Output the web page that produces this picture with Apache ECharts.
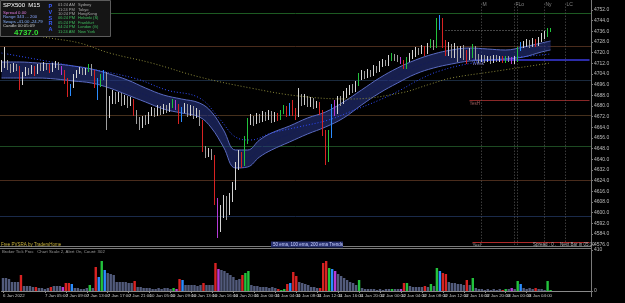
<!DOCTYPE html>
<html><head><meta charset="utf-8">
<script src="https://cdn.jsdelivr.net/npm/echarts@6/dist/echarts.min.js"></script>
<style>html,body{margin:0;padding:0;background:#000;}#c{width:625px;height:303px;}</style>
</head><body><div id="c"></div>
<script>
// ---------- data ----------
const tickLabels = ["6 Jan 2022","7 Jan 01:00","7 Jan 05:00","7 Jan 09:00","7 Jan 13:00","7 Jan 17:00","7 Jan 21:00",
"10 Jan 05:00","10 Jan 09:00","10 Jan 13:00","10 Jan 16:00","10 Jan 20:00","11 Jan 00:00","11 Jan 04:00","11 Jan 08:00",
"11 Jan 12:00","11 Jan 16:00","11 Jan 20:00","12 Jan 00:00","12 Jan 04:00","12 Jan 08:00","12 Jan 12:00","12 Jan 16:00",
"12 Jan 20:00","13 Jan 00:00","13 Jan 04:00","13 Jan 08:00"];
const firstOpen = 4707;
const closes = [4710,4713,4709.25,4707,4710,4708.5,4698,4704,4707,4705.5,
4708.5,4705.5,4710,4707.75,4710.75,4709.25,4707,4710,4711.5,4708.5,
4705.5,4699.5,4690.5,4695,4702.5,4705.5,4707,4704.75,4707,4710,
4705.5,4696.5,4699.5,4702.5,4704,4675.5,4684.5,4689,4684.5,4688.25,
4683,4686,4681.5,4684.5,4675.5,4669.5,4665,4671,4668,4674,
4677,4674,4678.5,4675.5,4679.25,4677,4680,4683.75,4680,4669.5,
4677,4680,4674,4678.5,4672.5,4675.5,4668,4648.5,4644,4646.25,
4641.75,4609.5,4593,4600.5,4609.5,4600.5,4611,4620,4635,4642.5,
4636.5,4654.5,4668,4671,4668,4672.5,4669.5,4674,4671,4674.75,
4669.5,4673.25,4671,4675.5,4678.5,4674,4680,4675.5,4673.25,4684.5,
4683,4686,4681.5,4684.5,4680,4681.5,4675.5,4660.5,4643.25,4658.25,
4678.5,4675.5,4684.5,4683,4689,4690.5,4693.5,4692,4696.5,4702.5,
4704,4702.5,4705.5,4704,4708.5,4707,4711.5,4713,4711.5,4716,
4717.5,4716,4714.5,4713,4710,4714.5,4717.5,4719,4722,4720.5,
4723.5,4720.5,4725,4728,4725,4741.5,4744.5,4726.5,4722,4725,
4719,4723.5,4717.5,4722,4719,4716,4720.5,4723.5,4717.5,4714.5,
4716.75,4714.5,4716,4713.75,4716.75,4714.5,4716,4713.75,4716,4714.5,
4713,4715.25,4722.75,4725.75,4726.5,4728,4725.75,4728.75,4726.5,4729.5,
4732.5,4734,4736.25,4737];
const highs = [4714.5,4724.25,4714.5,4711.5,4712.25,4711.5,4710,4705.5,4709.25,4708.5,
4710.75,4710,4711.5,4712.25,4713,4712.25,4711.5,4712.25,4713.75,4713,
4710,4707,4701,4696.5,4704,4707,4709.25,4708.5,4708.5,4711.5,
4711.5,4707,4701,4704,4707,4705.5,4687.5,4692,4690.5,4690.5,
4689.75,4688.25,4687.5,4686.75,4685.25,4677,4671.75,4672.5,4673.25,4675.5,
4679.25,4678.5,4680.75,4680,4681.5,4680.75,4682.25,4685.25,4684.5,4681.5,
4679.25,4682.25,4681.5,4680.75,4680,4678.5,4677,4669.5,4650,4648.5,
4647.75,4643.25,4611,4605.75,4613.25,4612.5,4614.75,4623,4638,4647,
4645.5,4657.5,4671,4674,4672.5,4674.75,4674,4676.25,4675.5,4677,
4676.25,4675.5,4674.75,4677,4680.75,4680,4682.25,4684.5,4678.5,4693.5,
4689,4689,4687.5,4686.75,4686,4683.75,4683,4677,4662,4662,
4681.5,4684.5,4687.5,4687.5,4691.25,4693.5,4695.75,4696.5,4698.75,4704.75,
4707,4706.25,4707.75,4707,4710.75,4710,4713.75,4715.25,4714.5,4718.25,
4719.75,4719,4718.25,4716.75,4714.5,4716.75,4719.75,4722,4724.25,4723.5,
4725.75,4725,4727.25,4730.25,4729.5,4746,4748.25,4746,4729.5,4728,
4726.5,4727.25,4725,4725,4725.75,4722,4723.5,4726.5,4725,4719,
4718.25,4718.25,4717.5,4717.5,4718.25,4718.25,4717.5,4717.5,4717.5,4717.5,
4716.75,4717.5,4724.25,4728,4728.75,4730.25,4729.5,4731,4730.25,4731.75,
4734.75,4736.25,4738.5,4738.5];
const lows = [4705.5,4708.5,4707,4704.75,4705.5,4706.25,4692,4695.75,4702.5,4703.25,
4704,4702.5,4704,4706.25,4706.25,4707,4704.75,4705.5,4708.5,4707,
4703.25,4696.5,4686.75,4687.5,4693.5,4701,4704,4703.25,4703.25,4705.5,
4702.5,4693.5,4684.5,4694.25,4699.5,4662,4671,4681.5,4681.5,4683,
4680,4680.75,4678.5,4680,4672.5,4666.5,4662,4663.5,4665.75,4666.5,
4672.5,4671.75,4672.5,4673.25,4674,4674.75,4675.5,4678.5,4677,4666.5,
4668,4674.75,4671.75,4672.5,4670.25,4671,4665,4645.5,4641,4641.75,
4639.5,4605.75,4581,4585.5,4596,4594.5,4598.25,4608,4617,4632,
4633.5,4635,4651.5,4665.75,4665,4666.5,4667.25,4668,4668.75,4669.5,
4667.25,4668,4668.75,4669.5,4674,4671.75,4672.5,4672.5,4669.5,4671.75,
4680,4680.75,4679.25,4679.25,4677.75,4678.5,4673.25,4657.5,4635.75,4638,
4656,4672.5,4674,4680,4681.5,4686,4688.25,4689.75,4690.5,4695,
4699.5,4700.25,4701,4701.75,4702.5,4704.75,4705.5,4709.25,4710,4710,
4713.75,4713.75,4713,4711.5,4707.75,4707.75,4713,4715.25,4716.75,4718.25,
4719,4717.5,4719,4723.5,4722,4723.5,4737,4723.5,4717.5,4717.5,
4716,4716,4713,4716,4714.5,4711.5,4714.5,4716,4714.5,4712.25,
4713,4712.25,4713,4711.5,4712.25,4713,4713,4712.25,4712.25,4713,
4711.5,4711.5,4713,4721.25,4723.5,4724.25,4723.5,4724.25,4724.25,4725,
4728,4730.25,4731.75,4735.5];
const volumes = [130,130,120,90,90,90,160,50,50,50,
40,40,30,30,20,30,40,50,50,50,
40,80,80,70,30,30,20,20,30,60,
30,240,140,300,210,180,170,160,90,90,
90,90,80,80,100,40,40,30,30,30,
20,20,30,20,30,30,20,30,20,120,
110,60,60,60,60,50,60,80,60,60,
60,280,220,210,200,180,160,140,110,120,
160,180,200,60,50,50,40,40,40,30,
40,30,20,10,20,70,80,190,150,90,
80,70,60,40,40,30,30,280,300,230,
220,200,170,150,130,110,90,80,60,110,
30,20,20,20,20,10,20,10,20,20,
20,20,20,20,80,80,50,40,40,40,
40,50,40,70,50,230,200,180,170,90,
80,80,70,70,60,110,60,130,30,20,
20,10,20,10,20,10,20,10,20,20,
30,20,100,70,30,20,30,20,30,20,
20,10,100,10];
// PVSRA volume class: 0 normal, 1 climax, 2 rising
const pvsra = [0,0,0,0,0,0,1,0,0,0, 0,1,0,0,0,0,1,0,0,0, 2,1,1,2,0,0,0,0,0,1, 0,1,2,1,2,0,0,0,0,0,
0,0,0,0,1,0,0,0,0,0, 0,0,0,0,0,0,0,1,2,1, 2,0,0,0,0,0,0,1,0,0, 0,1,2,0,0,0,0,0,0,0,
1,1,1,0,0,0,0,0,0,0, 0,0,1,1,1,1,2,1,1,0, 0,0,0,0,0,0,1,1,1,1, 2,2,0,0,0,0,0,0,0,1,
0,0,0,0,0,0,0,0,0,0, 1,0,0,2,1,1,0,0,0,0, 0,1,0,1,0,1,2,1,1,0, 0,0,0,0,0,1,0,1,0,0,
0,0,0,0,0,0,0,1,1,0, 2,0,1,2,0,0,0,0,1,0, 0,0,1,1];
// 50 ema band (upper / lower) sampled at bar indices
const bandIdx   = [0,6,12,18,24,30,36,42,48,54,60,66,70,74,78,82,86,90,96,102,108,114,120,126,132,138,144,150,156,162,168,174,180,183];
const bandUpper = [4713,4713,4712.25,4711.5,4710,4707.75,4704,4699.5,4693.5,4688.25,4685.25,4682.25,4675.5,4662,4647,4647,4654.5,4659.75,4665,4671,4675.5,4683,4692,4701,4708.5,4714.5,4719,4722,4723.5,4722.75,4722,4724.25,4727.25,4728.75];
const bandLower = [4701,4701,4701,4700.25,4698.75,4697.25,4693.5,4688.25,4683,4677.75,4674.75,4671.75,4663.5,4649.25,4633.5,4634.25,4641.75,4647,4653,4659,4664.25,4671,4680.75,4689.75,4697.25,4704,4708.5,4711.5,4713.75,4714.5,4715.25,4716.75,4720.5,4722];
const ema100Idx = [0,22,44,55,66,73,78,83,90,99,109,116,126,133,139,146,157,170,183];
const ema100 = [4719.75,4710.75,4701,4692,4686,4669.5,4656.75,4654.5,4659.75,4664.25,4669.5,4675.5,4684.5,4692,4699.5,4706.25,4712.25,4716,4719];
const ema200Idx = [0,16,26,36,50,66,83,99,116,133,143,150,163,183];
const ema200 = [4737,4731,4727.25,4719.75,4712.25,4701.75,4693.5,4687.5,4685.25,4689.75,4696.5,4701,4705.5,4712.25];
const levelPrices = [4749.75,4725,4699.5,4673.25,4650,4624.5,4597];
const weeklyLevel = 4714.5, yesterdayHigh = 4684.5, yesterdayLow = 4578;
const currentPrice = 4737.0;
const sessionNames = ["M","F","Lo","Ny","LC"];
const sessionIdx = [160,171,172,181,188];
const sessionClock = [["01:24 AM","Sydney"],["11:24 PM","Tokyo"],["10:24 PM","HongKong"],["06:24 PM","Helsinki (S)"],["05:24 PM","Frankfurt"],["04:24 PM","London (G)"],["11:24 AM","New York"]];

// ---------- build ----------
const N = closes.length, PAD = 13, M = N + PAD;
const cats = [];
for (let i = 0; i < M; i++) cats.push(i % 7 === 0 && tickLabels[i / 7] ? tickLabels[i / 7] : '');
const opens = closes.map((c, i) => i === 0 ? firstOpen : closes[i - 1]);
const COL = {bullN:'#d4d4d4', bearN:'#9e9e9e', bullC:'#22c23c', bearC:'#d82222', bullR:'#2b8cff', bearR:'#b53ad6'};
function colorFor(i){
  const up = closes[i] >= opens[i], k = pvsra[i];
  if (k === 1) return up ? COL.bullC : COL.bearC;
  if (k === 2) return up ? COL.bullR : COL.bearR;
  return up ? COL.bullN : COL.bearN;
}
const candleData = closes.map((c, i) => {
  const col = colorFor(i);
  return {value:[opens[i], c, lows[i], highs[i]], itemStyle:{color:col, color0:col, borderColor:col, borderColor0:col}};
});
const volData = volumes.map((v, i) => ({value:v, itemStyle:{color: pvsra[i] ? colorFor(i) : '#525b7c'}}));
const levelColors = ['#1d5a22','#4a2c1c','#1a2a3e','#46301c','#1d4a22','#4a2c1c','#1a2a4a'];
const FF = 'Liberation Sans, DejaVu Sans, sans-serif';

const markLines = levelPrices.map((p, k) => ({yAxis:p, lineStyle:{color:levelColors[k], width:1, type:'solid'}, label:{show:false}}));
markLines.push([{coord:[157, weeklyLevel], lineStyle:{color:'#3b3be0', width:1.5, type:'solid'}, label:{show:true, position:'insideStartBottom', formatter:'Week', color:'#8080c0', fontSize:4.5, distance:[0,1]}},{coord:[M-1, weeklyLevel]}]);
markLines.push([{coord:[156, yesterdayHigh], lineStyle:{color:'#8a2828', width:1, type:'solid'}, label:{show:true, position:'insideStartBottom', formatter:'YesH', color:'#a06060', fontSize:4.5, distance:[0,1]}},{coord:[M-1, yesterdayHigh]}]);
markLines.push([{coord:[157, yesterdayLow], lineStyle:{color:'#b02a2a', width:1, type:'solid'}, label:{show:true, position:'insideStartBottom', formatter:'YesL', color:'#a0a0a0', fontSize:4.5, distance:[0,1]}},{coord:[M-1, yesterdayLow]}]);
markLines.push([{coord:[148, currentPrice], lineStyle:{color:'#8a8a8a', width:1, type:[1,2]}, label:{show:false}},{coord:[182, currentPrice]}]);
sessionIdx.forEach(x => markLines.push({xAxis:x, lineStyle:{color:'#5a5a5a', width:1, type:[1,2]}, label:{show:false}}));
markLines.push({yAxis:currentPrice, lineStyle:{opacity:0}, label:{show:true, position:'end', formatter:currentPrice.toFixed(1), color:'#000', backgroundColor:'#c8c8c8', fontSize:5, padding:[1,2,0,2], distance:2, fontFamily:FF}});

function txt(x, y, text, fill, size, weight){
  return {type:'text', x:x, y:y, z:61, style:{text:text, fill:fill, fontSize:size, fontFamily:FF, fontWeight:weight || 'normal', verticalAlign:'middle'}};
}
const graphics = [
  {type:'line', shape:{x1:0,y1:246.5,x2:591,y2:246.5}, style:{stroke:'#7a7a7a', lineWidth:1}, z:50},
  {type:'line', shape:{x1:0,y1:248.5,x2:591,y2:248.5}, style:{stroke:'#7a7a7a', lineWidth:1}, z:50},
  {type:'line', shape:{x1:591.5,y1:0,x2:591.5,y2:297}, style:{stroke:'#7a7a7a', lineWidth:1}, z:50},
  {type:'rect', shape:{x:0.5,y:0.5,width:110,height:36}, style:{fill:'#151515', stroke:'#5c5c5c', lineWidth:1}, z:60},
  txt(3, 5, 'SPX500  M15', '#ffffff', 6),
  txt(3, 12.5, 'Spread 0.00', '#e07ae0', 4.3),
  txt(3, 17, 'Range 343 ... 200', '#8aa6ff', 4.3),
  txt(3, 21.5, 'Swaps -41.00 -24.79', '#8ab4ff', 4.3),
  txt(3, 26, 'Candle 00:05:09', '#d0d0d0', 4.3),
  txt(14, 32.5, '4737.0', '#33dd33', 8, 'bold'),
  txt(1, 244.5, 'Free PVSRA by TradersHome', '#c8b23c', 4.5),
  {type:'rect', shape:{x:271,y:241.5,width:72,height:6}, style:{fill:'#27306e'}, z:60},
  txt(273, 244.5, '50 ema, 100 ema, 200 ema Trends', '#c8d0ff', 4.5),
  txt(533, 244.5, 'Spread : 0 .   Next Bar in 05:19', '#b0b0b0', 4.5),
  txt(2, 252, 'Broker Tick Proc   Chart Scale 2, Alert On, Count: 302', '#9a9a9a', 4.3)
];
'PVSRA'.split('').forEach((ch, k) => graphics.push(txt(48.5, 6.5 + k*5.8, ch, '#3a5cff', 5.5, 'bold')));
sessionClock.forEach((s, k) => {
  const c = k < 3 ? '#a8a8a8' : '#3fbf5f';
  graphics.push(txt(58, 5 + k*4.45, s[0], c, 4));
  graphics.push(txt(78, 5 + k*4.45, s[1], c, 4));
});

const labelShow = (idx, val) => val !== '';
const option = {
  backgroundColor:'#000000',
  animation:false,
  grid:[{left:0, width:591, top:2, height:242.67}, {left:0, width:591, top:250, height:41}],
  xAxis:[
    {type:'category', gridIndex:0, data:cats, boundaryGap:true, axisLine:{show:false}, axisTick:{show:false}, axisLabel:{show:false}, splitLine:{show:false}},
    {type:'category', gridIndex:1, data:cats, boundaryGap:true,
     axisLine:{lineStyle:{color:'#8a8a8a'}}, axisTick:{show:true, interval:labelShow, alignWithLabel:true, length:2, lineStyle:{color:'#8a8a8a'}},
     axisLabel:{interval:labelShow, showMinLabel:true, fontSize:4.4, color:'#c4c4c4', align:'left', margin:2.5, fontFamily:FF}}
  ],
  yAxis:[
    {type:'value', gridIndex:0, position:'right', min:4576, max:4758, interval:8, scale:true,
     axisLine:{show:true, lineStyle:{color:'#7a7a7a'}}, axisTick:{show:true, length:2, lineStyle:{color:'#7a7a7a'}},
     axisLabel:{fontSize:5, color:'#bdbdbd', margin:3, showMaxLabel:false, formatter:v => v.toFixed(1), fontFamily:FF}, splitLine:{show:false}},
    {type:'value', gridIndex:1, position:'right', min:0, max:410, interval:410,
     axisLine:{show:true, lineStyle:{color:'#7a7a7a'}}, axisTick:{show:true, length:2, lineStyle:{color:'#7a7a7a'}},
     axisLabel:{fontSize:5, color:'#bdbdbd', margin:3, fontFamily:FF}, splitLine:{show:false}}
  ],
  series:[
    {type:'line', name:'bandLo', xAxisIndex:0, yAxisIndex:0, data:bandIdx.map((x,k)=>[x, bandLower[k]]), stack:'band', smooth:0.4, symbol:'none', lineStyle:{color:'#5a6ac0', width:1}, z:2, silent:true},
    {type:'line', name:'bandW', xAxisIndex:0, yAxisIndex:0, data:bandIdx.map((x,k)=>[x, bandUpper[k]-bandLower[k]]), stack:'band', smooth:0.4, symbol:'none', lineStyle:{color:'#5a6ac0', width:1}, areaStyle:{color:'rgba(38,52,130,0.85)'}, z:2, silent:true},
    {type:'line', name:'bandMid', xAxisIndex:0, yAxisIndex:0, data:bandIdx.map((x,k)=>[x, (bandUpper[k]+bandLower[k])/2]), smooth:0.4, symbol:'none', lineStyle:{color:'#141c55', width:1, type:[2,2]}, z:3, silent:true},
    {type:'line', name:'ema100', xAxisIndex:0, yAxisIndex:0, data:ema100Idx.map((x,k)=>[x, ema100[k]]), smooth:0.4, symbol:'none', lineStyle:{color:'#2f4cff', width:1, type:[1,2]}, z:3, silent:true},
    {type:'line', name:'ema200', xAxisIndex:0, yAxisIndex:0, data:ema200Idx.map((x,k)=>[x, ema200[k]]), smooth:0.4, symbol:'none', lineStyle:{color:'#8c8a3a', width:1, type:[1,2]}, z:3, silent:true},
    {type:'candlestick', name:'SPX500', xAxisIndex:0, yAxisIndex:0, data:candleData, barWidth:1, itemStyle:{borderWidth:1}, z:5,
     markLine:{symbol:'none', silent:true, animation:false, z:1, data:markLines}},
    {type:'scatter', xAxisIndex:0, yAxisIndex:0, data:sessionIdx.map((x,k)=>({value:[x, 4756], label:{formatter:sessionNames[k]}})), symbolSize:0,
     label:{show:true, position:'right', distance:1, fontSize:5, color:'#a0a0a0', fontFamily:FF}, z:6, silent:true},
    {type:'bar', name:'volume', xAxisIndex:1, yAxisIndex:1, data:volData, barWidth:2.4, z:5}
  ],
  graphic:graphics
};
const chart = echarts.init(document.getElementById('c'), null, {renderer:'canvas'});
chart.setOption(option);
</script></body></html>
